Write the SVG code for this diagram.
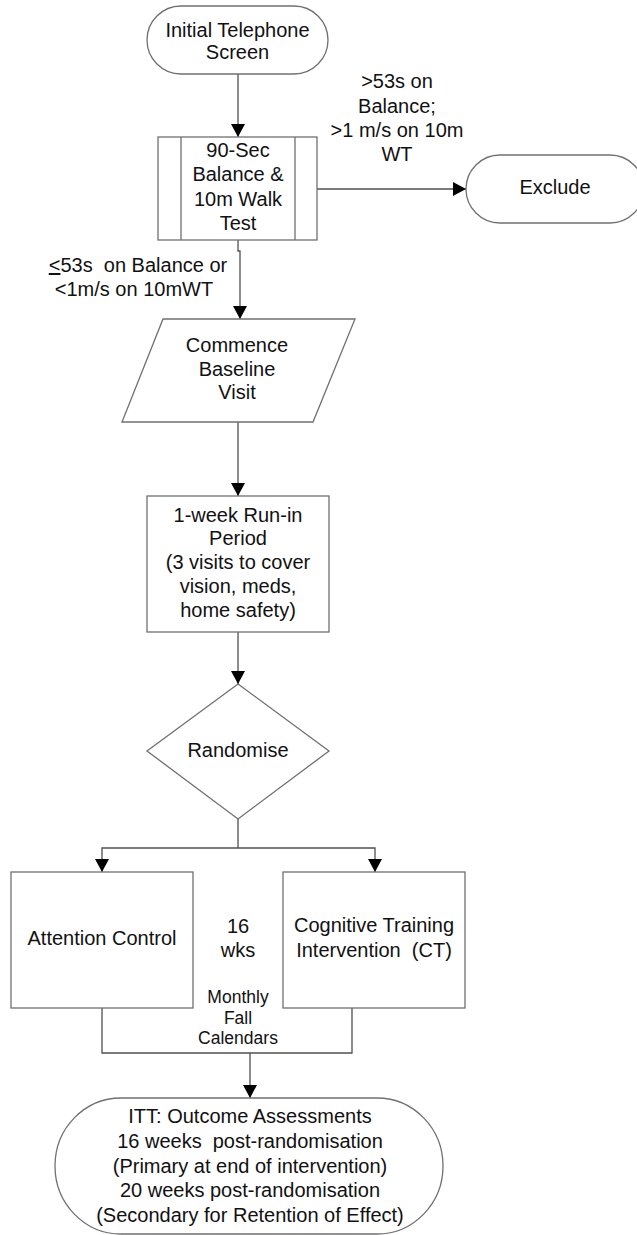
<svg xmlns="http://www.w3.org/2000/svg" width="637" height="1235" viewBox="0 0 637 1235">
<defs>
<marker id="ah" markerUnits="userSpaceOnUse" markerWidth="14" markerHeight="14" viewBox="0 0 14 14" refX="13" refY="7" orient="auto">
<path d="M0,0 L13,7 L0,14 Z" fill="#000"/>
</marker>
<style>
.n{fill:#fff;stroke:#707070;stroke-width:1.3}
.c{fill:none;stroke:#505050;stroke-width:1.3}
.t{font-family:"Liberation Sans",Arial,sans-serif;font-size:20px;fill:#111;text-anchor:middle;white-space:pre}
.s{font-family:"Liberation Sans",Arial,sans-serif;font-size:17.5px;fill:#111;text-anchor:middle}
</style>
</defs>
<rect width="637" height="1235" fill="#fff"/>
<g id="connectors">
<path class="c" d="M238,74 V137" marker-end="url(#ah)"/>
<path class="c" d="M317,189 H466" marker-end="url(#ah)"/>
<path class="c" d="M238,240 V251 H240 V319" marker-end="url(#ah)"/>
<path class="c" d="M238,422 V496" marker-end="url(#ah)"/>
<path class="c" d="M238,632 V684" marker-end="url(#ah)"/>
<path class="c" d="M238,819 V848"/>
<path class="c" d="M238,848 H102 V872" marker-end="url(#ah)"/>
<path class="c" d="M238,848 H375 V872" marker-end="url(#ah)"/>
<path class="c" d="M102,1008 V1053 H352 V1008"/>
<path class="c" d="M250,1053 V1098" marker-end="url(#ah)"/>
</g>
<g id="labels">
<text class="t"><tspan x="397" y="88">&gt;53s on</tspan><tspan x="397" y="113">Balance;</tspan><tspan x="397" y="137">&gt;1 m/s on 10m</tspan><tspan x="397" y="161">WT</tspan></text>
<text class="t" xml:space="preserve"><tspan x="138" y="272"><tspan text-decoration="underline">&lt;</tspan>53s  on Balance or</tspan><tspan x="134" y="296">&lt;1m/s on 10mWT</tspan></text>
<text class="t"><tspan x="238" y="933">16</tspan><tspan x="238" y="957">wks</tspan></text>
<text class="s"><tspan x="238" y="1003">Monthly</tspan><tspan x="238" y="1024">Fall</tspan><tspan x="238" y="1044">Calendars</tspan></text>
</g>
<g id="n-screen">
<rect class="n" x="147" y="6" width="181" height="68" rx="34" ry="34"/>
<text class="t"><tspan x="237.5" y="37">Initial Telephone</tspan><tspan x="237.5" y="59">Screen</tspan></text>
</g>
<g id="n-test">
<rect class="n" x="158" y="137" width="159" height="103"/>
<path class="c" d="M181,137 V240 M295,137 V240" style="stroke:#707070"/>
<text class="t"><tspan x="238" y="157">90-Sec</tspan><tspan x="238" y="181">Balance &amp;</tspan><tspan x="238" y="206">10m Walk</tspan><tspan x="238" y="230">Test</tspan></text>
</g>
<g id="n-exclude">
<rect class="n" x="466" y="155" width="178" height="68" rx="34" ry="34"/>
<text class="t" x="555" y="194">Exclude</text>
</g>
<g id="n-baseline">
<path class="n" d="M163,319 H355 L313,422 H122 Z"/>
<text class="t"><tspan x="237" y="352">Commence</tspan><tspan x="237" y="376">Baseline</tspan><tspan x="237" y="399">Visit</tspan></text>
</g>
<g id="n-runin">
<rect class="n" x="147" y="496" width="182" height="136"/>
<text class="t"><tspan x="238" y="522">1-week Run-in</tspan><tspan x="238" y="545">Period</tspan><tspan x="238" y="569">(3 visits to cover</tspan><tspan x="238" y="593">vision, meds,</tspan><tspan x="238" y="617">home safety)</tspan></text>
</g>
<g id="n-randomise">
<path class="n" d="M238,684 L329,751 L238,819 L147,751 Z"/>
<text class="t" x="238" y="757">Randomise</text>
</g>
<g id="n-control">
<rect class="n" x="11" y="872" width="182" height="136"/>
<text class="t" x="102" y="945">Attention Control</text>
</g>
<g id="n-ct">
<rect class="n" x="283" y="872" width="182" height="136"/>
<text class="t" xml:space="preserve"><tspan x="374" y="932">Cognitive Training</tspan><tspan x="374" y="957">Intervention  (CT)</tspan></text>
</g>
<g id="n-outcome">
<rect class="n" x="55" y="1098" width="388" height="136" rx="66" ry="68"/>
<text class="t" xml:space="preserve"><tspan x="250" y="1123">ITT: Outcome Assessments</tspan><tspan x="250" y="1148">16 weeks  post-randomisation</tspan><tspan x="250" y="1173">(Primary at end of intervention)</tspan><tspan x="250" y="1197">20 weeks post-randomisation</tspan><tspan x="250" y="1222">(Secondary for Retention of Effect)</tspan></text>
</g>
</svg>
